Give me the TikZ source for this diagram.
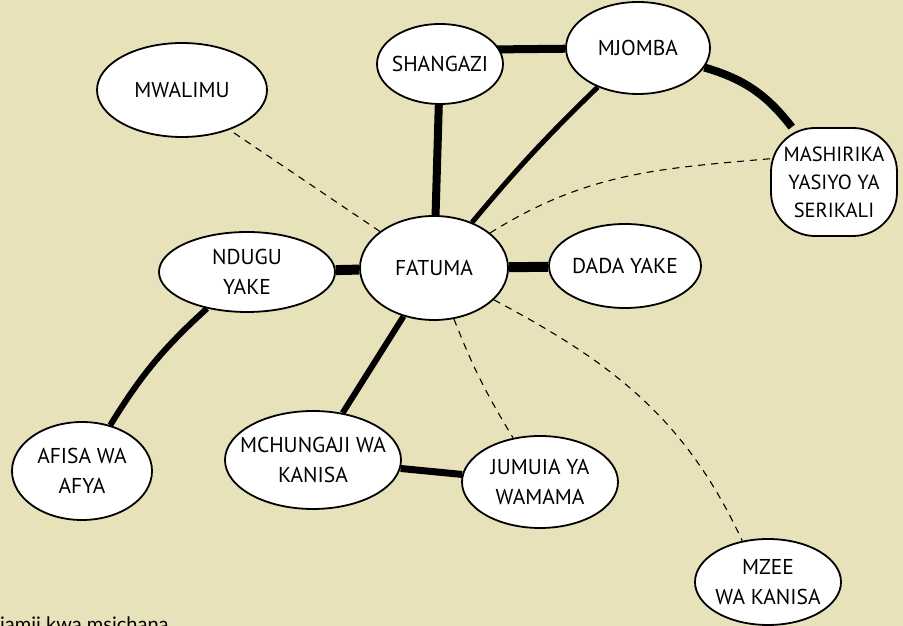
\documentclass[tikz,border=0pt]{standalone}
\usepackage{fontspec}
\setmainfont{PT Sans}
\newfontfamily\capfont{Lato}
\usetikzlibrary{shapes.geometric,calc}
\pgfdeclarelayer{back}
\pgfdeclarelayer{edges}
\pgfsetlayers{back,edges,main}
\definecolor{bg}{RGB}{232,226,187}
\begin{document}
\begin{tikzpicture}[x=1pt,y=1pt,
  bubble/.style={ellipse, draw=black, line width=1.8pt, fill=white, inner xsep=-30pt, inner ysep=-15pt,
    align=center, font=\fontsize{21.5}{30}\selectfont},
  blob/.style={rectangle, rounded corners=44pt, draw=black, line width=1.8pt, fill=white,
    inner xsep=-20pt, inner ysep=-15pt, align=center, font=\fontsize{20.5}{28}\selectfont},
  tie/.style={draw=black, line width=#1},
  weak/.style={draw=black, line width=1.1pt, dash pattern=on 7pt off 6pt}]
\begin{pgfonlayer}{back}
\fill[bg] (0,0) rectangle (903,626);
\end{pgfonlayer}
\useasboundingbox (0,0) rectangle (903,626);

\node[bubble, minimum width=148, minimum height=104] (fatuma) at (434,358) {FATUMA};
\node[bubble, minimum width=176, minimum height=80] (ndugu) at (247,354) {NDUGU\\YAKE};
\node[bubble, minimum width=152, minimum height=84] (dada) at (625,360) {DADA YAKE};
\node[bubble, minimum width=126, minimum height=80] (shangazi) at (440,562) {SHANGAZI};
\node[bubble, minimum width=144, minimum height=92] (mjomba) at (638,578) {MJOMBA};
\node[blob, minimum width=126, minimum height=108] (mashirika) at (834,444) {MASHIRIKA\\YASIYO YA\\SERIKALI};
\node[bubble, minimum width=170, minimum height=94] (mwalimu) at (182,536) {MWALIMU};
\node[bubble, minimum width=140, minimum height=98] (afisa) at (82,155) {AFISA WA\\AFYA};
\node[bubble, minimum width=176, minimum height=98] (mchungaji) at (313,166) {MCHUNGAJI WA\\KANISA};
\node[bubble, minimum width=156, minimum height=92] (jumuia) at (540,144) {JUMUIA YA\\WAMAMA};
\node[bubble, minimum width=146, minimum height=86] (mzee) at (768,44) {MZEE\\WA KANISA};

\node[anchor=base west, inner sep=0pt, font=\capfont\fontsize{20}{24}\selectfont] (caption) at (0,-6) {jamii kwa msichana};

\begin{pgfonlayer}{edges}
\draw[tie=8pt] (fatuma) -- (shangazi);
\draw[tie=8pt] ([yshift=14pt]shangazi.center) -- (mjomba);
\draw[tie=8pt] (mjomba) to[bend left=18] (mashirika);
\draw[tie=5pt] (fatuma) to[bend left=3] (mjomba);
\draw[tie=10pt] (fatuma) -- (ndugu);
\draw[tie=10pt] (fatuma) -- (dada);
\draw[tie=6pt] (fatuma) -- (mchungaji);
\draw[tie=6pt] (ndugu) to[bend right=8] (afisa);
\draw[tie=7pt] (mchungaji) -- (jumuia);
\draw[weak] (fatuma) -- (mwalimu.-40);
\draw[weak] (fatuma) to[out=32,in=185] (mashirika.160);
\draw[weak] (fatuma) to[bend right=5] (jumuia);
\draw[weak] (fatuma) to[out=-28,in=115] (mzee.122);
\end{pgfonlayer}
\end{tikzpicture}
\end{document}
